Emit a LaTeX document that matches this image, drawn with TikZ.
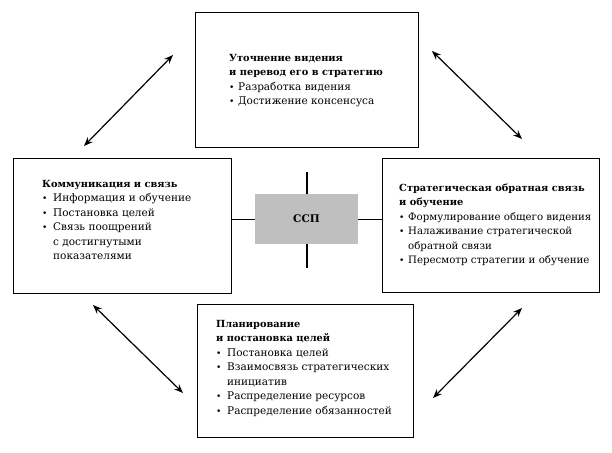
\documentclass[tikz,border=0pt]{standalone}
\usepackage{fontspec}
\setmainfont{DejaVu Serif}
\usetikzlibrary{arrows.meta}
\newlength{\indw}
\setlength{\indw}{11pt}
\newcommand{\itm}[1]{\makebox[\indw][l]{\small•}#1}
\newcommand{\cnt}[1]{\hspace*{\indw}#1}
\newcommand{\ttl}[1]{{\bfseries\fontsize{9.8}{14.5}\selectfont #1}}
\tikzset{
  box/.style={draw, line width=1pt, inner sep=0pt},
  txt/.style={anchor=base west, inner sep=0pt, font=\fontsize{10.5}{14.5}\selectfont},
  link/.style={line width=1.2pt, {Stealth[length=9pt,width=7pt]}-{Stealth[length=9pt,width=7pt]}},
  cross/.style={line width=1.3pt}
}
\begin{document}
\begin{tikzpicture}[x=1pt,y=-1pt]
\useasboundingbox[fill=white] (0,0) rectangle (612,452);
% boxes
\node[box, minimum width=223pt, minimum height=134pt] (top) at (306.5,80) {};
\node[box, minimum width=218pt, minimum height=135pt] (left) at (122,225.5) {};
\node[box, minimum width=217pt, minimum height=134pt] (right) at (490.5,225) {};
\node[box, minimum width=216pt, minimum height=133pt] (bottom) at (305,370.5) {};
% cross lines
\coordinate (vt) at (307,172);
\coordinate (vb) at (307,268);
\draw[cross] (vt) -- (vb);
\node[fill=black!25, minimum width=103pt, minimum height=50pt, inner sep=0pt, font=\bfseries\fontsize{10.5}{12}\selectfont] (ssp) at (306.5,219) {ССП};
\draw[line width=1pt] (ssp.west) -- (ssp.west -| left.east);
\draw[line width=1pt] (ssp.east) -- (ssp.east -| right.west);
% texts
\node[txt] (ttop) at (229,61) {\setlength{\indw}{9pt}\begin{tabular}[t]{@{}l@{}}
\ttl{Уточнение видения}\\
\ttl{и перевод его в стратегию}\\
\itm{Разработка видения}\\
\itm{Достижение консенсуса}
\end{tabular}};
\node[txt] (tleft) at (42,187) {\begin{tabular}[t]{@{}l@{}}
\ttl{Коммуникация и связь}\\
\itm{Информация и обучение}\\
\itm{Постановка целей}\\
\itm{Связь поощрений}\\
\cnt{с достигнутыми}\\
\cnt{показателями}
\end{tabular}};
\node[txt, font=\fontsize{10.2}{14.5}\selectfont] (tright) at (399,191) {\setlength{\indw}{9pt}\begin{tabular}[t]{@{}l@{}}
\ttl{Стратегическая обратная связь}\\
\ttl{и обучение}\\
\itm{Формулирование общего видения}\\
\itm{Налаживание стратегической}\\
\cnt{обратной связи}\\
\itm{Пересмотр стратегии и обучение}
\end{tabular}};
\node[txt] (tbottom) at (216,327) {\begin{tabular}[t]{@{}l@{}}
\ttl{Планирование}\\
\ttl{и постановка целей}\\
\itm{Постановка целей}\\
\itm{Взаимосвязь стратегических}\\
\cnt{инициатив}\\
\itm{Распределение ресурсов}\\
\itm{Распределение обязанностей}
\end{tabular}};
% arrows
\coordinate (a1s) at (84,146);
\coordinate (a1e) at (173,55);
\coordinate (a2s) at (432,51);
\coordinate (a2e) at (522,139);
\coordinate (a3s) at (93,305);
\coordinate (a3e) at (183,393);
\coordinate (a4s) at (433,398);
\coordinate (a4e) at (522,308);
\draw[link] (a1s) -- (a1e);
\draw[link] (a2s) -- (a2e);
\draw[link] (a3s) -- (a3e);
\draw[link] (a4s) -- (a4e);
\end{tikzpicture}
\end{document}
